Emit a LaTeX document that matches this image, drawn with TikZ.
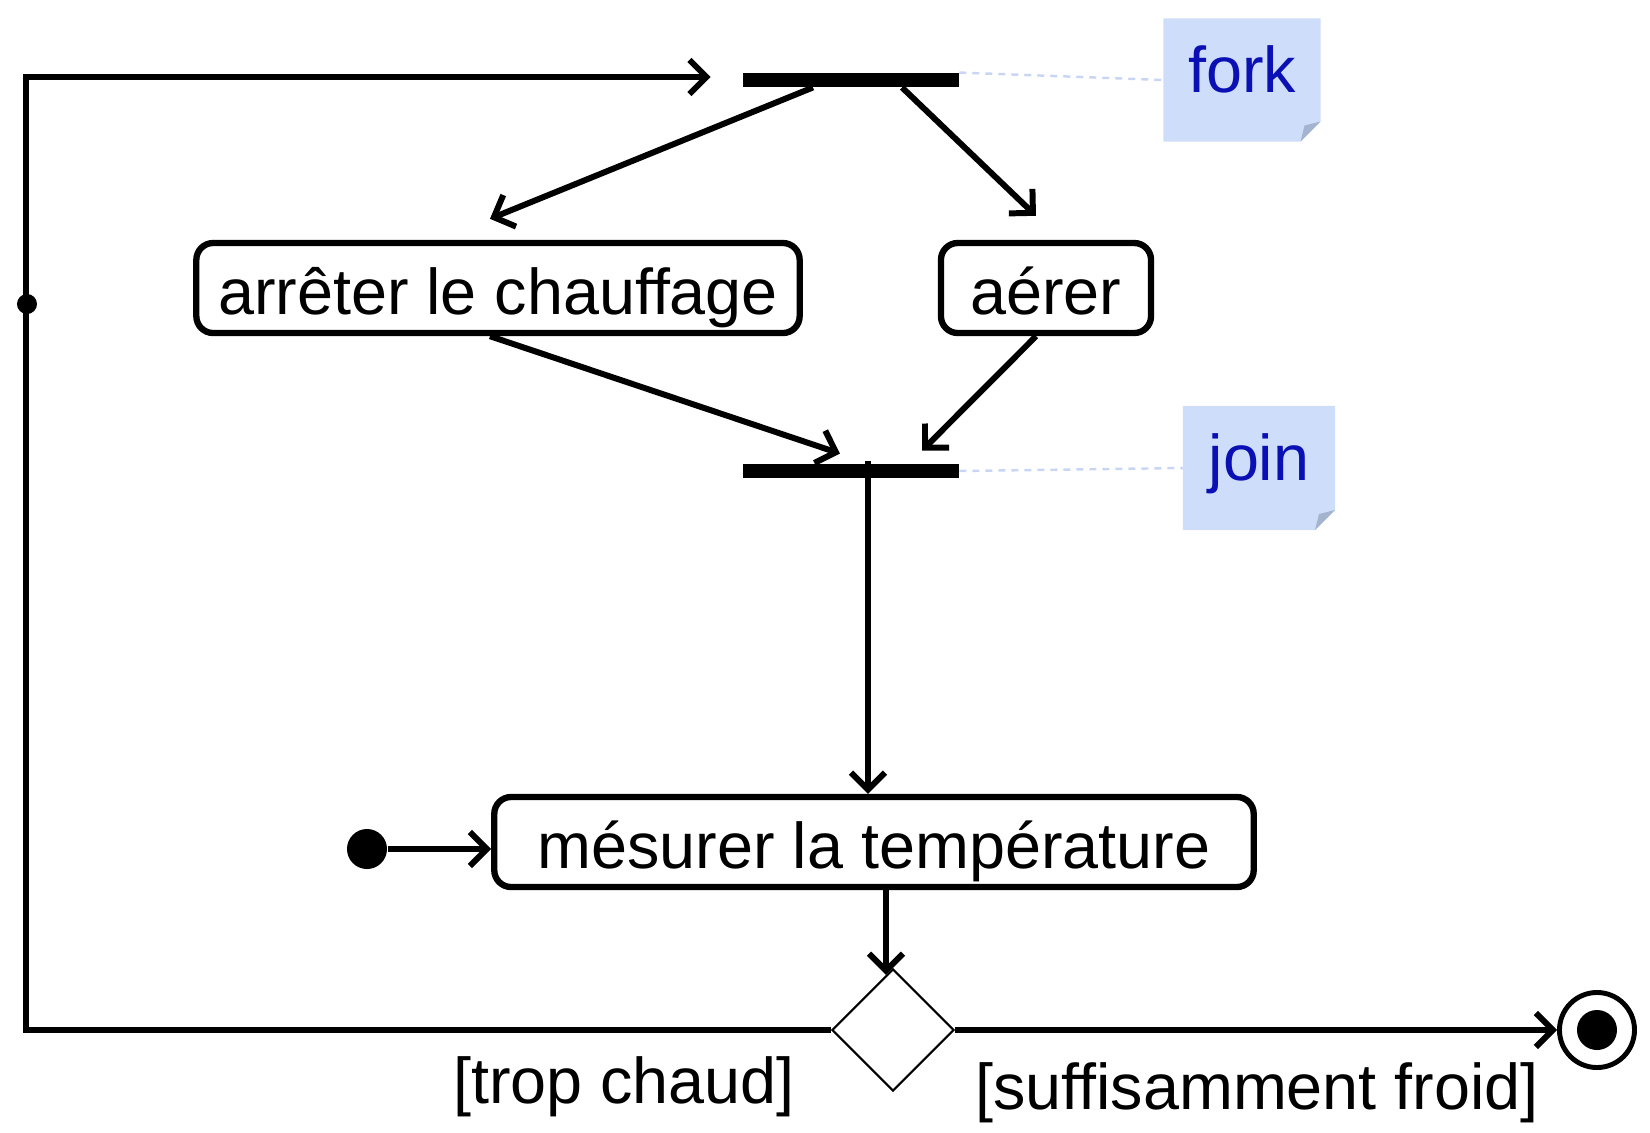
\documentclass[tikz,border=0pt]{standalone}
\usepackage{fontspec}
\setmainfont{Liberation Sans}
\usetikzlibrary{arrows.meta,shapes.geometric,backgrounds}
\definecolor{notefill}{RGB}{206,221,250}
\definecolor{notefold}{RGB}{165,180,206}
\definecolor{noteink}{RGB}{10,16,180}
\definecolor{notelink}{RGB}{200,214,244}
\tikzset{
  action/.style={
    rectangle, rounded corners=4.8pt, draw, line width=1.8pt,
    minimum height=0.9cm, inner sep=0pt,
    text height=0.66cm, text depth=0.14cm,
    font=\fontsize{18.4}{22}\selectfont
  },
  syncbar/.style={
    rectangle, fill=black, minimum width=2.15cm, minimum height=0.135cm,
    inner sep=0pt
  },
  decision/.style={
    diamond, draw, line width=0.6pt, fill=white,
    minimum width=1.22cm, minimum height=1.22cm, inner sep=0pt
  },
  initial/.style={circle, fill=black, minimum size=0.4cm, inner sep=0pt},
  final/.style={circle, draw, line width=1.4pt, minimum size=0.75cm, inner sep=0pt},
  joint/.style={circle, fill=black, minimum size=0.2cm, inner sep=0pt},
  note/.style={
    rectangle, inner sep=0pt, outer sep=0pt,
    text=noteink, font=\fontsize{18.4}{22}\selectfont,
    text height=0.5cm, text depth=0.26cm
  },
  guard/.style={font=\fontsize{18.4}{22}\selectfont},
  arrow/.style={-{Straight Barb[length=0.17cm,width=0.34cm]}, line width=1.7pt},
  notelinkline/.style={notelink, line width=0.7pt, dash pattern=on 0.07cm off 0.06cm},
}
\newcommand{\notepaper}[1]{%
  \fill[notefill] (#1.north west) -- (#1.north east)
    -- ([yshift=0.2cm]#1.south east) -- ([xshift=-0.2cm]#1.south east)
    -- (#1.south west) -- cycle;
  \fill[notefold] ([yshift=0.2cm]#1.south east) -- ([xshift=-0.2cm]#1.south east)
    -- ([xshift=-0.16cm,yshift=0.16cm]#1.south east) -- cycle;}
\begin{document}
\begin{tikzpicture}[x=0.01cm, y=-0.01cm]
  \useasboundingbox (0,0) rectangle (1650,1132);

  % Fork and join bars
  \node[syncbar] (fork) at (851,80) {};
  \node[syncbar] (join) at (851,471) {};

  % Actions
  \node[action, minimum width=6.03cm] (stop) at (498,288) {arrêter le chauffage};
  \node[action, minimum width=2.1cm] (vent) at (1046,288) {aérer};
  \node[action, minimum width=7.59cm] (measure) at (874,842) {mésurer la température};

  % Start, decision, end
  \node[initial] (start) at (367,849) {};
  \node[decision] (dec) at (893,1030) {};
  \node[final] (end) at (1597,1030) {};
  \fill (end.center) circle (0.2cm);

  % Notes
  \node[note, minimum width=1.57cm, minimum height=1.23cm] (forknote) at (1242,80) {fork};
  \node[note, minimum width=1.52cm, minimum height=1.24cm] (joinnote) at (1259,468) {join};
  \begin{scope}[on background layer]
    \notepaper{forknote}
    \notepaper{joinnote}
  \end{scope}
  \draw[notelinkline] (fork.north east) -- (forknote.west);
  \draw[notelinkline] (join.east) -- (joinnote.west);

  % Fork to actions
  \draw[arrow] ([xshift=-0.38cm]fork.south) -- ([xshift=-0.08cm,yshift=0.21cm]stop.north);
  \draw[arrow] ([xshift=0.51cm]fork.south) -- ([xshift=-0.1cm,yshift=0.24cm]vent.north);

  % Actions to join
  \draw[arrow] ([xshift=-0.08cm]stop.south) -- ([xshift=-0.11cm,yshift=0.1cm]join.north);
  \draw[arrow] ([xshift=-0.1cm]vent.south) -- ([xshift=0.71cm,yshift=0.13cm]join.north);

  % Join to measure
  \coordinate (joinout) at ([xshift=0.17cm,yshift=0.03cm]join.north);
  \draw[arrow] (joinout) -- (joinout |- measure.north);

  % Start to measure, measure to decision
  \draw[arrow] (start) -- (start -| measure.west);
  \draw[arrow] ([xshift=0.12cm]measure.south) -- ([xshift=-0.07cm,yshift=-0.07cm]dec.north);

  % Branches
  \draw[arrow] (dec.east) -- (end.west);
  \draw[arrow] (dec.west) -- ++(-805,0) |- ([xshift=-0.32cm,yshift=0.03cm]fork.west);
  \node[joint] (loopdot) at (27,304) {};

  % Guards
  \node[guard] (hot) at (624,1087) {[trop chaud]};
  \node[guard] (cold) at (1257,1093) {[suffisamment froid]};
\end{tikzpicture}
\end{document}
